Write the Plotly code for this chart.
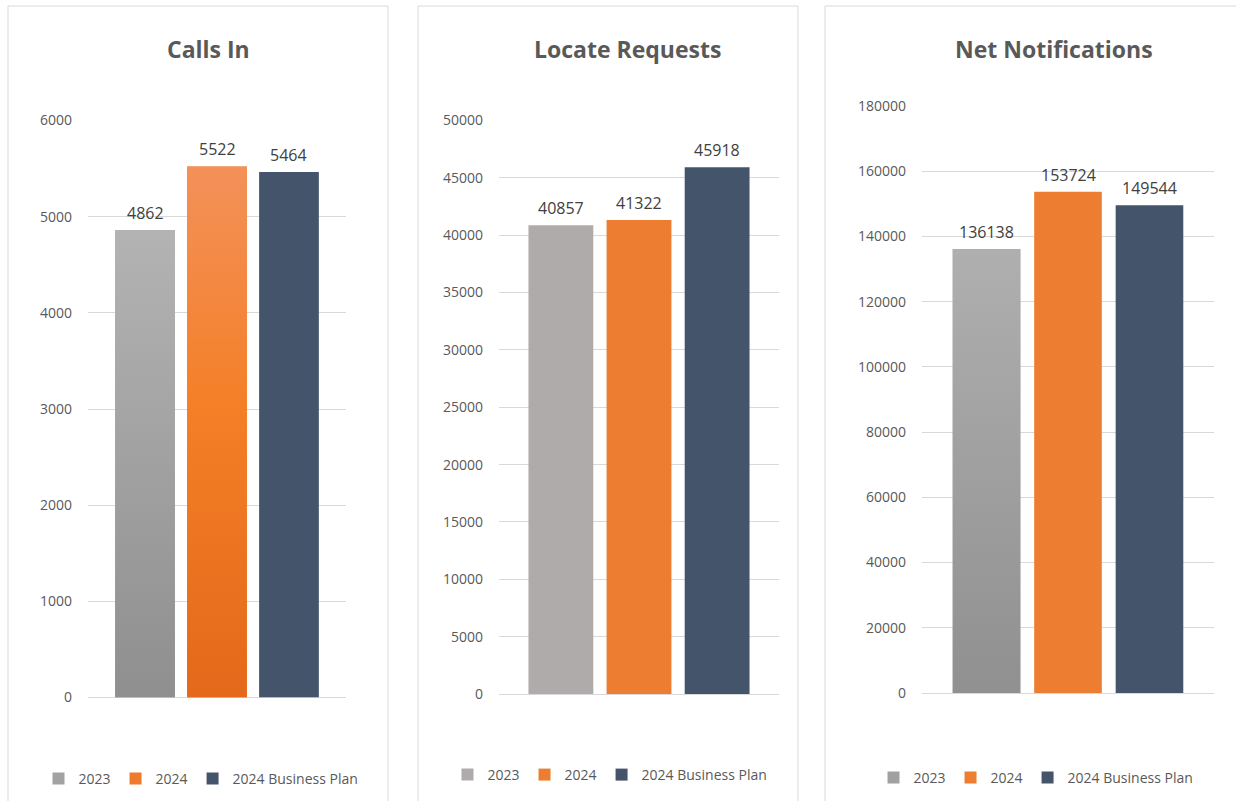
import plotly.graph_objects as go

W, H = 1236, 801

# ---- data ----
series_names = ["2023", "2024", "2024 Business Plan"]
chart_titles = ["Calls In", "Locate Requests", "Net Notifications"]
calls_in = [4862, 5522, 5464]
locate_requests = [40857, 41322, 45918]
net_notifications = [136138, 153724, 149544]
y_max = [6000, 50000, 180000]
y_step = [1000, 5000, 20000]

# flat colours (also used for legend symbols)
colors = [
    ["#a2a2a2", "#ef7a2c", "#44546a"],
    ["#afabab", "#ed7d31", "#44546a"],
    ["#a1a1a1", "#ed7d31", "#44546a"],
]
# vertical gradients (bottom -> top) for the bars that have them
gradients = {
    (0, 0): [[0, "#8f8f8f"], [1, "#b3b3b3"]],
    (0, 1): [[0, "#e4691a"], [0.55, "#f47f27"], [1, "#f3915a"]],
    (2, 0): [[0, "#909090"], [1, "#afafaf"]],
}

def px(x):
    return x / W

def py(y):
    return 1 - y / H

# panel geometry (pixels)
plot_x = [(88, 346), (499, 779), (922, 1214)]
plot_y = [(120.5, 697.5), (120.5, 694), (106, 693)]
panel_x = [(8, 388), (418, 798), (825, 1245)]
title_pos = [(208, 49), (627, 49), (1054, 49)]
legend_pos = [(201, 779), (610, 775), (1036, 778)]

BARGAP = 0.163
BARGROUPGAP = 0.17

datasets = [calls_in, locate_requests, net_notifications]

fig = go.Figure()
layout = dict(
    width=W, height=H,
    margin=dict(l=0, r=0, t=0, b=0, autoexpand=False),
    paper_bgcolor="white", plot_bgcolor="white",
    barmode="group", bargap=BARGAP, bargroupgap=BARGROUPGAP,
    font=dict(family="Open Sans", color="#595959", size=13),
    annotations=[], shapes=[],
)

nser = len(series_names)
slot = (1 - BARGAP) / nser
half_w = slot * (1 - BARGROUPGAP) / 2

for i, vals in enumerate(datasets):
    n = "" if i == 0 else str(i + 1)
    xa, ya = "x" + n, "y" + n
    leg = "legend" + n
    for j, name in enumerate(series_names):
        fig.add_trace(go.Bar(
            x=[0], y=[vals[j]], name=name,
            marker=dict(color=colors[i][j], line=dict(width=0)),
            xaxis=xa, yaxis=ya, legend=leg, showlegend=True,
            hovertemplate=chart_titles[i] + " – " + name + ": %{y}<extra></extra>",
        ))
    # gradient overlays, computed from the same bar geometry
    for j, name in enumerate(series_names):
        if (i, j) in gradients:
            c = (j - (nser - 1) / 2) * slot
            fig.add_trace(go.Scatter(
                x=[c - half_w, c + half_w, c + half_w, c - half_w, c - half_w],
                y=[0, 0, vals[j], vals[j], 0],
                mode="lines", line=dict(width=0), fill="toself",
                fillgradient=dict(type="vertical", colorscale=gradients[(i, j)]),
                xaxis=xa, yaxis=ya, showlegend=False, hoverinfo="skip",
            ))
    for j, name in enumerate(series_names):
        # data label above the bar
        layout["annotations"].append(dict(
            xref=xa, yref=ya, x=(j - (nser - 1) / 2) * slot, y=vals[j],
            text=str(vals[j]), showarrow=False,
            xanchor="center", yanchor="middle", yshift=17,
            font=dict(size=16, color="#404040", family="Open Sans"),
        ))
    layout["xaxis" + n] = dict(
        domain=[px(plot_x[i][0]), px(plot_x[i][1])],
        anchor=ya, showticklabels=False, showgrid=False,
        showline=False, zeroline=False, ticks="",
        type="linear", range=[-0.5, 0.5],
    )
    layout["yaxis" + n] = dict(
        domain=[py(plot_y[i][1]), py(plot_y[i][0])],
        anchor=xa, range=[0, y_max[i]], dtick=y_step[i], tick0=0,
        tickformat="d",
        showgrid=True, gridcolor="#d9d9d9", gridwidth=1,
        zeroline=True, zerolinecolor="#d9d9d9", zerolinewidth=1,
        showline=False, ticks="", ticklabelstandoff=15,
        tickfont=dict(size=14, color="#595959"),
    )
    layout[leg] = dict(
        orientation="h", x=px(legend_pos[i][0]), y=py(legend_pos[i][1]),
        xanchor="center", yanchor="middle",
        font=dict(size=14, color="#595959"),
        bgcolor="rgba(0,0,0,0)", itemwidth=30,
    )
    layout["annotations"].append(dict(
        text="<b>" + chart_titles[i] + "</b>", xref="paper", yref="paper",
        x=px(title_pos[i][0]), y=py(title_pos[i][1]),
        xanchor="center", yanchor="middle", showarrow=False,
        font=dict(size=23, color="#595959", family="Open Sans"),
    ))
    layout["shapes"].append(dict(
        type="rect", xref="paper", yref="paper",
        x0=px(panel_x[i][0]), x1=px(panel_x[i][1]),
        y0=-0.02, y1=py(6),
        line=dict(color="#d9d9d9", width=1), fillcolor="rgba(0,0,0,0)",
        layer="below",
    ))

fig.update_layout(**layout)
fig.write_html(
    "out.html",
    config={"displayModeBar": False},
    post_script="document.body.style.margin='0';document.body.style.overflow='hidden';",
)
